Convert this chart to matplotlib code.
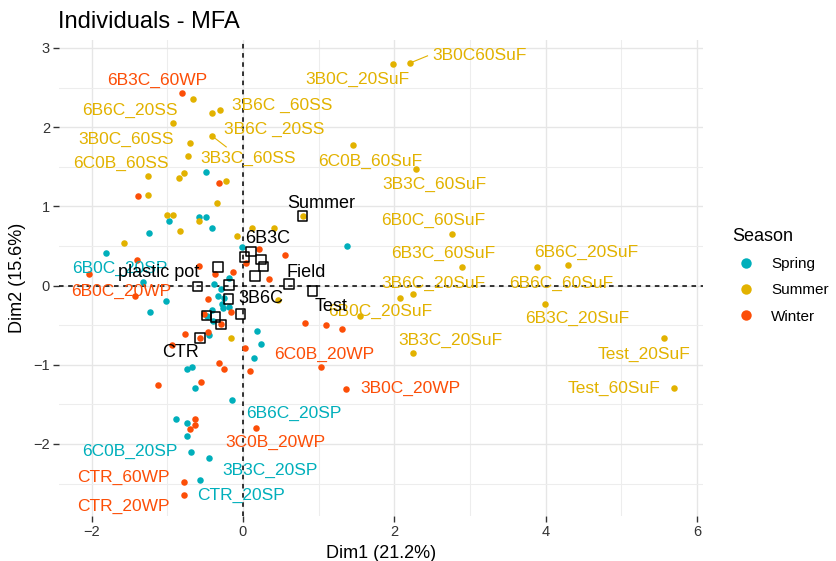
import matplotlib
matplotlib.use("Agg")
import matplotlib.pyplot as plt
from matplotlib.lines import Line2D
import numpy as np

plt.rcParams['font.family'] = ['Liberation Sans', 'DejaVu Sans']

# ---------------- data ----------------
seasons = ["Spring", "Summer", "Winter"]
season_colors = {"Spring": "#00AFBB", "Summer": "#E2B200", "Winter": "#FC4E07"}

summer_x = [-0.66, -0.41, -0.30, -0.93, -0.70, -0.41, -0.72, -0.78, -0.84, -1.26,
            -1.26, -0.22, -0.34, -1.00, -0.93, -0.58, -0.83, -1.57, -0.08, 0.12,
            0.41, 1.46, 1.99, 2.21, 2.29, 2.76, 2.90, 3.88, 4.30, 2.08,
            2.25, 3.99, 2.25, 5.56, 5.70, 1.55, 0.47, -0.16, 0.79]
summer_y = [2.35, 2.18, 2.21, 2.05, 1.80, 1.89, 1.63, 1.42, 1.36, 1.38,
            1.14, 1.32, 1.04, 0.89, 0.89, 0.82, 0.69, 0.54, 0.63, 0.72,
            0.73, 1.77, 2.80, 2.81, 1.47, 0.65, 0.24, 0.24, 0.26, -0.16,
            -0.11, -0.23, -0.85, -0.66, -1.29, -0.39, -0.18, -0.66, 0.88]

spring_x = [-0.49, -0.98, -0.58, -0.49, -0.41, -1.24, -1.81, -0.01, 1.37, -1.32,
            -1.02, -1.23, -0.19, -0.38, -0.29, -0.33, -0.25, -0.28, -0.26, -0.19,
            -0.41, -0.48, -0.39, -0.45, 0.18, 0.24, 0.15, -0.67, -0.74, -0.63,
            -0.14, -0.88, -0.74, -0.74, -0.68, -0.45, -0.57]
spring_y = [1.43, 0.82, 0.86, 0.86, 0.73, 0.66, 0.41, 0.49, 0.50, 0.05,
            -0.20, -0.34, 0.10, 0.02, -0.04, -0.13, -0.16, -0.23, -0.29, -0.27,
            -0.31, -0.38, -0.45, -0.63, -0.58, -0.74, -0.91, -1.03, -1.06, -1.29,
            -1.45, -1.69, -1.73, -1.90, -2.10, -2.18, -2.45]

winter_x = [-0.81, -1.38, -0.32, 0.21, 0.56, -1.40, -0.58, -2.03, -0.37, -0.13,
            0.04, 0.34, -1.43, -0.46, -0.16, -0.52, -0.29, -0.77, -0.46, -0.57,
            -0.94, 0.03, 0.09, -0.31, -0.25, -0.56, -1.12, -0.63, -0.63, -0.70,
            0.17, -0.78, -0.78, 0.82, 1.10, 1.31, 1.03, 1.36]
winter_y = [2.43, 1.13, 1.30, 0.46, 0.38, 0.32, 0.25, 0.15, 0.15, 0.17,
            0.29, 0.08, -0.13, -0.17, -0.34, -0.36, -0.49, -0.61, -0.59, -0.66,
            -0.75, -0.79, -1.08, -0.98, -1.06, -1.22, -1.26, -1.69, -1.76, -1.81,
            -1.80, -2.48, -2.65, -0.47, -0.50, -0.55, -1.03, -1.31]

# supplementary categories (open squares)
sup_names = ["Summer", "6B3C", "", "", "", "", "plastic pot", "", "", "3B6C",
             "", "", "", "", "CTR", "Field", "Test"]
sup_x = [0.79, 0.11, 0.02, 0.24, 0.27, 0.16, -0.33, -0.60, -0.18, -0.19,
         -0.03, -0.48, -0.36, -0.29, -0.57, 0.61, 0.92]
sup_y = [0.88, 0.43, 0.36, 0.33, 0.24, 0.12, 0.23, -0.01, 0.01, -0.17,
         -0.36, -0.38, -0.40, -0.49, -0.66, 0.02, -0.07]

# individual labels: text, season
ind_labels = ["6B3C_60WP", "3B0C_20SuF", "3B0C60SuF", "6B6C_20SS", "3B6C _60SS",
              "3B0C_60SS", "3B6C _20SS", "6C0B_60SS", "3B3C_60SS", "6C0B_60SuF",
              "3B3C_60SuF", "6B0C_60SuF", "6B3C_60SuF", "6B6C_20SuF", "3B6C_20SuF",
              "6B6C_60SuF", "6B3C_20SuF", "6B0C_20SuF", "3B3C_20SuF", "Test_20SuF",
              "Test_60SuF", "6B0C_20SP", "6B0C_20WP", "6C0B_20WP", "3B0C_20WP",
              "6B6C_20SP", "3C0B_20WP", "6C0B_20SP", "3B3C_20SP", "CTR_60WP",
              "CTR_20SP", "CTR_20WP"]
ind_label_season = ["Winter", "Summer", "Summer", "Summer", "Summer",
                    "Summer", "Summer", "Summer", "Summer", "Summer",
                    "Summer", "Summer", "Summer", "Summer", "Summer",
                    "Summer", "Summer", "Summer", "Summer", "Summer",
                    "Summer", "Spring", "Winter", "Winter", "Winter",
                    "Spring", "Winter", "Spring", "Spring", "Winter",
                    "Spring", "Winter"]

# ---------------- layout (label placement, repel-like) ----------------
ind_label_pos = [(-1.13, 2.59), (1.51, 2.60), (3.13, 2.90), (-1.49, 2.21), (0.52, 2.27),
                 (-1.54, 1.85), (0.41, 1.97), (-1.61, 1.54), (0.07, 1.60), (1.68, 1.57),
                 (2.53, 1.28), (2.51, 0.82), (2.65, 0.40), (4.54, 0.42), (2.52, 0.03),
                 (4.20, 0.03), (4.42, -0.42), (1.82, -0.33), (2.74, -0.69), (5.30, -0.87),
                 (4.90, -1.30), (-1.63, 0.22), (-1.61, -0.07), (1.07, -0.87), (2.21, -1.30),
                 (0.67, -1.61), (0.43, -1.98), (-1.49, -2.09), (0.36, -2.33), (-1.58, -2.42),
                 (-0.03, -2.65), (-1.58, -2.79)]
sup_label_pos = {"Summer": (1.03, 1.04), "6B3C": (0.33, 0.59), "plastic pot": (-1.11, 0.16),
                 "3B6C": (0.24, -0.17), "CTR": (-0.82, -0.85), "Field": (0.84, 0.16),
                 "Test": (1.16, -0.26)}
# leader segments: (label index, point (x, y), end near label)
leaders = [(2, (2.21, 2.81), (2.44, 2.90)), (8, (-0.41, 1.89), (-0.22, 1.75))]

W, H = 836, 561
fig = plt.figure(figsize=(W / 100, H / 100), dpi=100)
ax = fig.add_axes([59 / W, 1 - 516 / H, (703 - 59) / W, (516 - 40) / H])

ax.set_xlim(-2.43, 6.08)
ax.set_ylim(-2.91, 3.10)

# grid
ax.set_xticks([-2, 0, 2, 4, 6])
ax.set_yticks([-2, -1, 0, 1, 2, 3])
ax.set_xticks([-1, 1, 3, 5], minor=True)
ax.set_yticks([-2.5, -1.5, -0.5, 0.5, 1.5, 2.5], minor=True)
ax.grid(True, which='major', color='#E6E6E6', linewidth=1.0, zorder=0)
ax.grid(True, which='minor', color='#EDEDED', linewidth=0.8, zorder=0)
ax.set_axisbelow(True)
for s in ax.spines.values():
    s.set_visible(False)
ax.tick_params(axis='both', which='major', length=4, width=1.0, color='#333333',
               labelsize=10.5, labelcolor='#333333', pad=2.5)
ax.tick_params(axis='both', which='minor', length=0)

ax.axhline(0, color='black', linestyle=(0, (3, 3)), linewidth=1.1, zorder=1)
ax.axvline(0, color='black', linestyle=(0, (3, 3)), linewidth=1.1, zorder=1)

# points
ax.scatter(spring_x, spring_y, s=22, color=season_colors["Spring"], linewidths=0, zorder=3)
ax.scatter(summer_x, summer_y, s=22, color=season_colors["Summer"], linewidths=0, zorder=3)
ax.scatter(winter_x, winter_y, s=22, color=season_colors["Winter"], linewidths=0, zorder=3)

# supplementary squares
ax.scatter(sup_x, sup_y, s=48, marker='s', facecolors='none', edgecolors='black',
           linewidths=1.1, zorder=4)

# labels
for i, (txt, sea) in enumerate(zip(ind_labels, ind_label_season)):
    lx, ly = ind_label_pos[i]
    ax.text(lx, ly, txt, color=season_colors[sea], fontsize=12.5,
            ha='center', va='center', zorder=5)
for name in sup_names:
    if name:
        lx, ly = sup_label_pos[name]
        ax.text(lx, ly, name, color='black', fontsize=13,
                ha='center', va='center', zorder=5)
for idx, p0, p1 in leaders:
    ax.plot([p0[0], p1[0]], [p0[1], p1[1]], color=season_colors[ind_label_season[idx]],
            linewidth=0.8, zorder=2)

ax.set_xlabel("Dim1 (21.2%)", fontsize=13, color='black', labelpad=4)
ax.set_ylabel("Dim2 (15.6%)", fontsize=13, color='black', labelpad=5)

fig.text(58 / W, 1 - 22 / H, "Individuals - MFA", fontsize=17, ha='left', va='center')

handles = [Line2D([], [], marker='o', linestyle='none', markersize=7.5,
                  markerfacecolor=season_colors[s], markeredgewidth=0) for s in seasons]
fig.legend(handles, seasons, loc='upper left', bbox_to_anchor=(732 / W, 1 - 228 / H),
           frameon=False, title='Season', alignment='left', fontsize=11,
           title_fontsize=13, handletextpad=0.75, labelspacing=0.8, borderpad=0,
           handlelength=1.8, borderaxespad=0)

fig.savefig("out.png", dpi=100)
